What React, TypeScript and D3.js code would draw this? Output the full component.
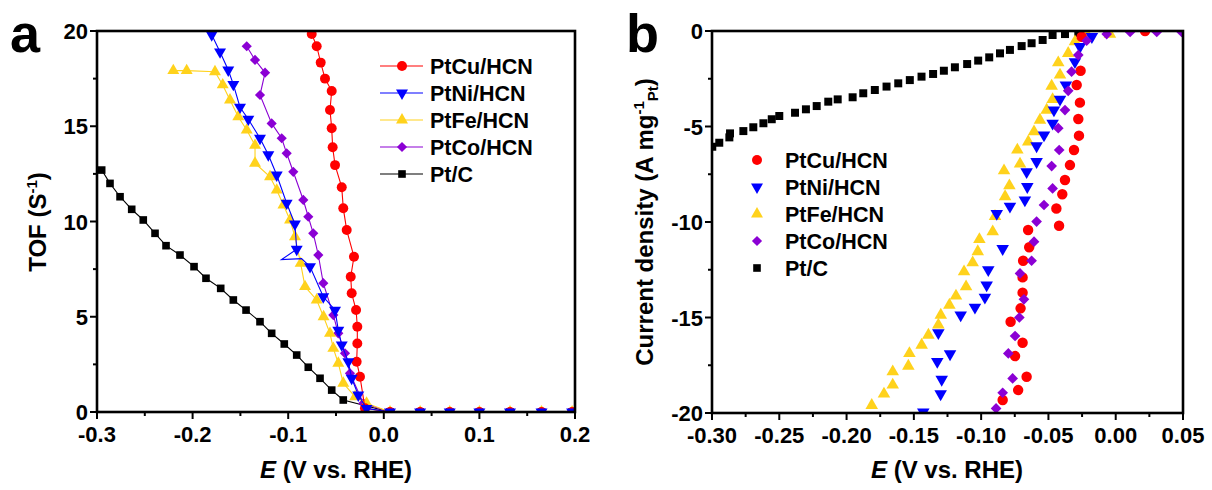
import React from "react";
import * as d3 from "d3";

const FONT = "'Liberation Sans', Arial, Helvetica, sans-serif";

const seriesNames = ["PtCu/HCN", "PtNi/HCN", "PtFe/HCN", "PtCo/HCN", "Pt/C"];
const seriesColors = ["#FF0000", "#0000FF", "#FFD21C", "#8B00D4", "#000000"];
const seriesSymbols = ["circle", "triDown", "triUp", "diamond", "square"];

// ---------- Panel a: TOF vs E ----------
const aZeroE = [0.0065, 0.038, 0.069, 0.1, 0.132, 0.165, 0.197];
const aZeroTOF = [0, 0, 0, 0, 0, 0, 0];

const aCuE = [-0.0754, -0.0702, -0.066, -0.0615, -0.0545, -0.0563, -0.0545, -0.0535, -0.051, -0.044, -0.0424, -0.0388, -0.0312, -0.0346, -0.0336, -0.029, -0.0277, -0.0277, -0.0284, -0.0249, -0.0197];
const aCuTOF = [19.84, 19.2, 18.34, 17.5, 16.85, 15.85, 14.9, 13.9, 12.96, 11.8, 10.7, 9.55, 8.15, 7.1, 6.23, 5.35, 4.48, 3.6, 2.64, 1.85, 0.2];

const aNiE = [-0.18, -0.1713, -0.1627, -0.1574, -0.1504, -0.1417, -0.1295, -0.1208, -0.112, -0.1016, -0.093, -0.0911, -0.0772, -0.0633, -0.051, -0.0476, -0.044, -0.0371, -0.0336, -0.0267, -0.018];
const aNiTOF = [19.8, 18.9, 17.95, 17.2, 16.0, 15.37, 14.37, 13.5, 12.44, 10.96, 9.87, 8.54, 7.63, 6.05, 5.35, 4.3, 3.52, 2.64, 1.77, 0.89, 0.19];
// excursion of the PtNi trace (line only, no markers) after the 12th marker
const aNiGlitchE = [-0.107, -0.086];
const aNiGlitchTOF = [8.0, 8.05];

const aFeE = [-0.2202, -0.2062, -0.1766, -0.1685, -0.1609, -0.1522, -0.1434, -0.1347, -0.1347, -0.119, -0.112, -0.105, -0.0981, -0.0929, -0.087, -0.0824, -0.0702, -0.063, -0.0563, -0.0528, -0.0476, -0.0424, -0.03, -0.018];
const aFeTOF = [17.92, 17.92, 17.86, 17.17, 16.38, 15.5, 14.8, 14.0, 13.06, 12.35, 11.65, 10.87, 10.08, 9.2, 7.8, 6.58, 5.88, 5.0, 4.13, 3.34, 2.56, 1.51, 0.8, 0.46];

const aCoE = [-0.1434, -0.1347, -0.1242, -0.1295, -0.1173, -0.1068, -0.1016, -0.0947, -0.0842, -0.079, -0.0738, -0.0685, -0.0633, -0.0528, -0.0476, -0.0406, -0.0354, -0.0214];
const aCoTOF = [19.2, 18.48, 17.81, 16.64, 15.15, 14.37, 13.58, 12.61, 11.13, 10.25, 9.38, 8.24, 6.76, 5.09, 4.13, 3.08, 2.03, 0.46];

const aPtCE = [-0.2951, -0.2864, -0.2759, -0.2637, -0.2516, -0.2393, -0.2278, -0.2132, -0.1985, -0.186, -0.1706, -0.1574, -0.1441, -0.1295, -0.1173, -0.1041, -0.0911, -0.079, -0.0667, -0.0545, -0.0424];
const aPtCTOF = [12.7, 12.0, 11.3, 10.64, 10.08, 9.38, 8.73, 8.24, 7.63, 7.02, 6.49, 5.88, 5.35, 4.74, 4.13, 3.57, 2.99, 2.35, 1.77, 1.15, 0.63];

const aXTicks = [-0.3, -0.2, -0.1, 0.0, 0.1, 0.2];
const aXTickLabels = ["-0.3", "-0.2", "-0.1", "0.0", "0.1", "0.2"];
const aYTicks = [0, 5, 10, 15, 20];
const aYTickLabels = ["0", "5", "10", "15", "20"];

// ---------- Panel b: current density vs E ----------
const bCuE = [0.0218, -0.0253, -0.0261, -0.029, -0.0266, -0.0278, -0.0273, -0.031, -0.034, -0.0377, -0.0397, -0.0441, -0.0421, -0.0651, -0.0643, -0.0688, -0.0692, -0.0692, -0.0707, -0.0781, -0.0692, -0.0748, -0.0662, -0.0725, -0.084];
const bCuJ = [0, -0.3, -2.08, -2.83, -3.75, -4.61, -5.48, -6.23, -7.02, -7.8, -8.55, -9.29, -10.2, -10.42, -11.32, -12.03, -12.9, -13.7, -14.52, -15.22, -16.32, -17.02, -18.1, -18.8, -19.32];

const bNiE = [-0.0177, -0.0266, -0.0303, -0.037, -0.0414, -0.0459, -0.0469, -0.0533, -0.0588, -0.0588, -0.0662, -0.0657, -0.0675, -0.0786, -0.0884, -0.084, -0.0947, -0.0959, -0.0972, -0.1046, -0.1152, -0.1318, -0.1231, -0.1326, -0.1293, -0.1301, -0.143];
const bNiJ = [-0.3, -0.82, -1.61, -2.83, -3.58, -4.14, -4.83, -5.45, -6.02, -6.84, -7.37, -8.15, -8.85, -9.18, -9.56, -11.4, -12.5, -13.3, -13.94, -14.47, -14.87, -15.8, -16.91, -17.31, -18.24, -19.0, -19.95];

const bFeE = [-0.0043, -0.0217, -0.0303, -0.0353, -0.0427, -0.0414, -0.0476, -0.0469, -0.0513, -0.0563, -0.0607, -0.065, -0.0731, -0.0711, -0.083, -0.079, -0.0822, -0.0897, -0.0914, -0.1013, -0.1025, -0.1063, -0.1127, -0.1112, -0.1187, -0.1236, -0.13, -0.1318, -0.1392, -0.1442, -0.1533, -0.1541, -0.1657, -0.1657, -0.1722, -0.1813];
const bFeJ = [-0.16, -0.12, -0.56, -1.17, -1.66, -2.3, -2.88, -3.58, -4.14, -4.66, -5.27, -5.8, -6.23, -6.96, -7.31, -8.1, -8.67, -9.7, -10.51, -10.91, -11.55, -12.13, -12.6, -13.39, -13.87, -14.35, -14.87, -15.39, -15.92, -16.44, -16.88, -17.54, -17.84, -18.53, -19.0, -19.6];

const bCoE = [0.049, 0.0305, 0.0107, -0.0067, -0.0216, -0.0278, -0.0328, -0.0353, -0.0377, -0.0427, -0.042, -0.0476, -0.0469, -0.0533, -0.0588, -0.0607, -0.0625, -0.0711, -0.0682, -0.0716, -0.0748, -0.0798, -0.0766, -0.084, -0.0889];
const bCoJ = [-0.05, -0.05, -0.05, -0.16, -0.51, -1.26, -2.13, -3.13, -4.14, -5.09, -6.23, -7.07, -8.24, -9.11, -9.98, -11.03, -12.03, -12.69, -14.05, -15.0, -15.97, -16.88, -18.19, -18.94, -19.76];

const bPtCE = [-0.2998, -0.2946, -0.2871, -0.2866, -0.2767, -0.2693, -0.2618, -0.2556, -0.25, -0.2383, -0.2302, -0.2222, -0.2136, -0.2066, -0.1955, -0.1876, -0.179, -0.1703, -0.1616, -0.153, -0.1443, -0.1357, -0.1277, -0.1195, -0.1104, -0.1022, -0.094, -0.086, -0.0786, -0.0699, -0.0625, -0.0543, -0.0469, -0.0377, -0.0278];
const bPtCJ = [-6.06, -5.85, -5.57, -5.36, -5.24, -5.04, -4.83, -4.62, -4.45, -4.28, -4.1, -3.93, -3.7, -3.58, -3.47, -3.26, -3.09, -2.91, -2.74, -2.57, -2.39, -2.25, -2.08, -1.9, -1.73, -1.55, -1.38, -1.17, -0.99, -0.79, -0.64, -0.47, -0.21, -0.16, -0.09];

const bXTicks = [-0.3, -0.25, -0.2, -0.15, -0.1, -0.05, 0.0, 0.05];
const bXTickLabels = ["-0.30", "-0.25", "-0.20", "-0.15", "-0.10", "-0.05", "0.00", "0.05"];
const bYTicks = [0, -5, -10, -15, -20];
const bYTickLabels = ["0", "-5", "-10", "-15", "-20"];

// ---------- helpers ----------
function zip(xs: number[], ys: number[]) {
  return xs.map((x, i) => [x, ys[i]] as [number, number]);
}

const aMarkers = [
  zip(aCuE.concat(aZeroE), aCuTOF.concat(aZeroTOF)),
  zip(aNiE.concat(aZeroE), aNiTOF.concat(aZeroTOF)),
  zip(aFeE.concat(aZeroE), aFeTOF.concat(aZeroTOF)),
  zip(aCoE.concat(aZeroE), aCoTOF.concat(aZeroTOF)),
  zip(aPtCE.concat(aZeroE), aPtCTOF.concat(aZeroTOF)),
];
const niTrace = aMarkers[1].slice(0, 12).concat(zip(aNiGlitchE, aNiGlitchTOF), aMarkers[1].slice(12));
const aTraces = [aMarkers[0], niTrace, aMarkers[2], aMarkers[3], aMarkers[4]];
const bSeries = [zip(bCuE, bCuJ), zip(bNiE, bNiJ), zip(bFeE, bFeJ), zip(bCoE, bCoJ), zip(bPtCE, bPtCJ)];

const symbolSize: Record<string, number> = { circle: 78, triDown: 62, triUp: 62, diamond: 52, square: 58 };

function Marker({ kind, x, y, color, scale = 1 }: { kind: string; x: number; y: number; color: string; scale?: number }) {
  let type: d3.SymbolType = d3.symbolCircle;
  let rot = 0;
  if (kind === "triDown") { type = d3.symbolTriangle; rot = 180; }
  if (kind === "triUp") type = d3.symbolTriangle;
  if (kind === "diamond") { type = d3.symbolSquare; rot = 45; }
  if (kind === "square") type = d3.symbolSquare;
  const d = d3.symbol().type(type).size(symbolSize[kind] * scale)() as string;
  return <path d={d} fill={color} transform={`translate(${x},${y}) rotate(${rot})`} />;
}

function Axes({ x, y, xTicks, xLabels, yTicks, yLabels, xMinor, yMinor }: any) {
  const [x0, x1] = x.range();
  const [y0, y1] = y.range();
  return (
    <g>
      <rect x={x0} y={y1} width={x1 - x0} height={y0 - y1} fill="none" stroke="#000" strokeWidth={2.6} />
      {xMinor.map((t: number, i: number) => (
        <line key={"xm" + i} x1={x(t)} x2={x(t)} y1={y0} y2={y0 + 4} stroke="#000" strokeWidth={2} />
      ))}
      {xTicks.map((t: number, i: number) => (
        <g key={"x" + i}>
          <line x1={x(t)} x2={x(t)} y1={y0} y2={y0 + 7} stroke="#000" strokeWidth={2} />
          <text x={x(t)} y={y0 + 30} textAnchor="middle" fontSize={22} fontWeight="bold" fontFamily={FONT}>{xLabels[i]}</text>
        </g>
      ))}
      {yMinor.map((t: number, i: number) => (
        <line key={"ym" + i} x1={x0 - 4} x2={x0} y1={y(t)} y2={y(t)} stroke="#000" strokeWidth={2} />
      ))}
      {yTicks.map((t: number, i: number) => (
        <g key={"y" + i}>
          <line x1={x0 - 7} x2={x0} y1={y(t)} y2={y(t)} stroke="#000" strokeWidth={2} />
          <text x={x0 - 9} y={y(t) + 8} textAnchor="end" fontSize={22} fontWeight="bold" fontFamily={FONT}>{yLabels[i]}</text>
        </g>
      ))}
    </g>
  );
}

export default function App() {
  const xa = d3.scaleLinear().domain([-0.3, 0.2]).range([97, 575]);
  const ya = d3.scaleLinear().domain([0, 20]).range([412, 31]);
  const xb = d3.scaleLinear().domain([-0.3, 0.05]).range([712, 1183]);
  const yb = d3.scaleLinear().domain([-20, 0]).range([413, 31]);

  const lineA = d3.line<[number, number]>().x((d) => xa(d[0])).y((d) => ya(d[1]));

  const aOrder = [4, 3, 2, 0, 1];
  const bOrder = [4, 2, 1, 0, 3];

  const aLegendY = [66, 93, 120, 147, 174];
  const bLegendY = [160, 187, 214, 241, 268];

  return (
    <svg width={1212} height={490} style={{ position: "absolute", left: 0, top: 0, background: "#fff" }} fontFamily={FONT}>
      <defs>
        <clipPath id="clipA"><rect x={97} y={31} width={478} height={381} /></clipPath>
        <clipPath id="clipB"><rect x={712} y={31} width={471} height={382} /></clipPath>
      </defs>
      <rect x={0} y={0} width={1212} height={490} fill="#fff" />

      {/* Panel a */}
      <g clipPath="url(#clipA)">
        {aOrder.map((si) => (
          <g key={"a" + si}>
            <path d={lineA(aTraces[si]) as string} fill="none" stroke={seriesColors[si]} strokeWidth={1.1} />
            {aMarkers[si].map((p, j) => (
              <Marker key={j} kind={seriesSymbols[si]} x={xa(p[0])} y={ya(p[1])} color={seriesColors[si]} />
            ))}
          </g>
        ))}
      </g>
      <Axes x={xa} y={ya} xTicks={aXTicks} xLabels={aXTickLabels} yTicks={aYTicks} yLabels={aYTickLabels}
        xMinor={d3.range(-0.25, 0.2, 0.1)} yMinor={d3.range(2.5, 20, 5)} />
      {seriesNames.map((name, i) => (
        <g key={"la" + i}>
          <line x1={380} x2={423} y1={aLegendY[i]} y2={aLegendY[i]} stroke={seriesColors[i]} strokeWidth={1.2} />
          <Marker kind={seriesSymbols[i]} x={402} y={aLegendY[i]} color={seriesColors[i]} />
          <text x={430} y={aLegendY[i] + 8} fontSize={21.5} fontWeight="bold">{name}</text>
        </g>
      ))}
      <text x={10} y={52} fontSize={54} fontWeight="bold">a</text>
      <text transform="translate(46,222) rotate(-90)" textAnchor="middle" fontSize={24} fontWeight="bold">
        TOF (S<tspan fontSize={15} dy={-9}>-1</tspan><tspan dy={9}>)</tspan>
      </text>
      <text x={336} y={478} textAnchor="middle" fontSize={24} fontWeight="bold">
        <tspan fontStyle="italic">E</tspan> (V vs. RHE)
      </text>

      {/* Panel b */}
      <g clipPath="url(#clipB)">
        {bOrder.map((si) => (
          <g key={"b" + si}>
            {bSeries[si].map((p, j) => (
              <Marker key={j} kind={seriesSymbols[si]} x={xb(p[0])} y={yb(p[1])} color={seriesColors[si]} scale={1.1} />
            ))}
          </g>
        ))}
      </g>
      <Axes x={xb} y={yb} xTicks={bXTicks} xLabels={bXTickLabels} yTicks={bYTicks} yLabels={bYTickLabels}
        xMinor={d3.range(-0.275, 0.05, 0.05)} yMinor={d3.range(-2.5, -20, -5)} />
      {seriesNames.map((name, i) => (
        <g key={"lb" + i}>
          <Marker kind={seriesSymbols[i]} x={757} y={bLegendY[i]} color={seriesColors[i]} />
          <text x={785} y={bLegendY[i] + 8} fontSize={21.5} fontWeight="bold">{name}</text>
        </g>
      ))}
      <text x={626} y={52} fontSize={54} fontWeight="bold">b</text>
      <text transform="translate(653,222) rotate(-90)" textAnchor="middle" fontSize={24} fontWeight="bold">
        Current density (A mg<tspan fontSize={15} dy={-9}>-1</tspan><tspan fontSize={15} dy={14}>Pt</tspan><tspan dy={-5}>)</tspan>
      </text>
      <text x={947} y={478} textAnchor="middle" fontSize={24} fontWeight="bold">
        <tspan fontStyle="italic">E</tspan> (V vs. RHE)
      </text>
    </svg>
  );
}
